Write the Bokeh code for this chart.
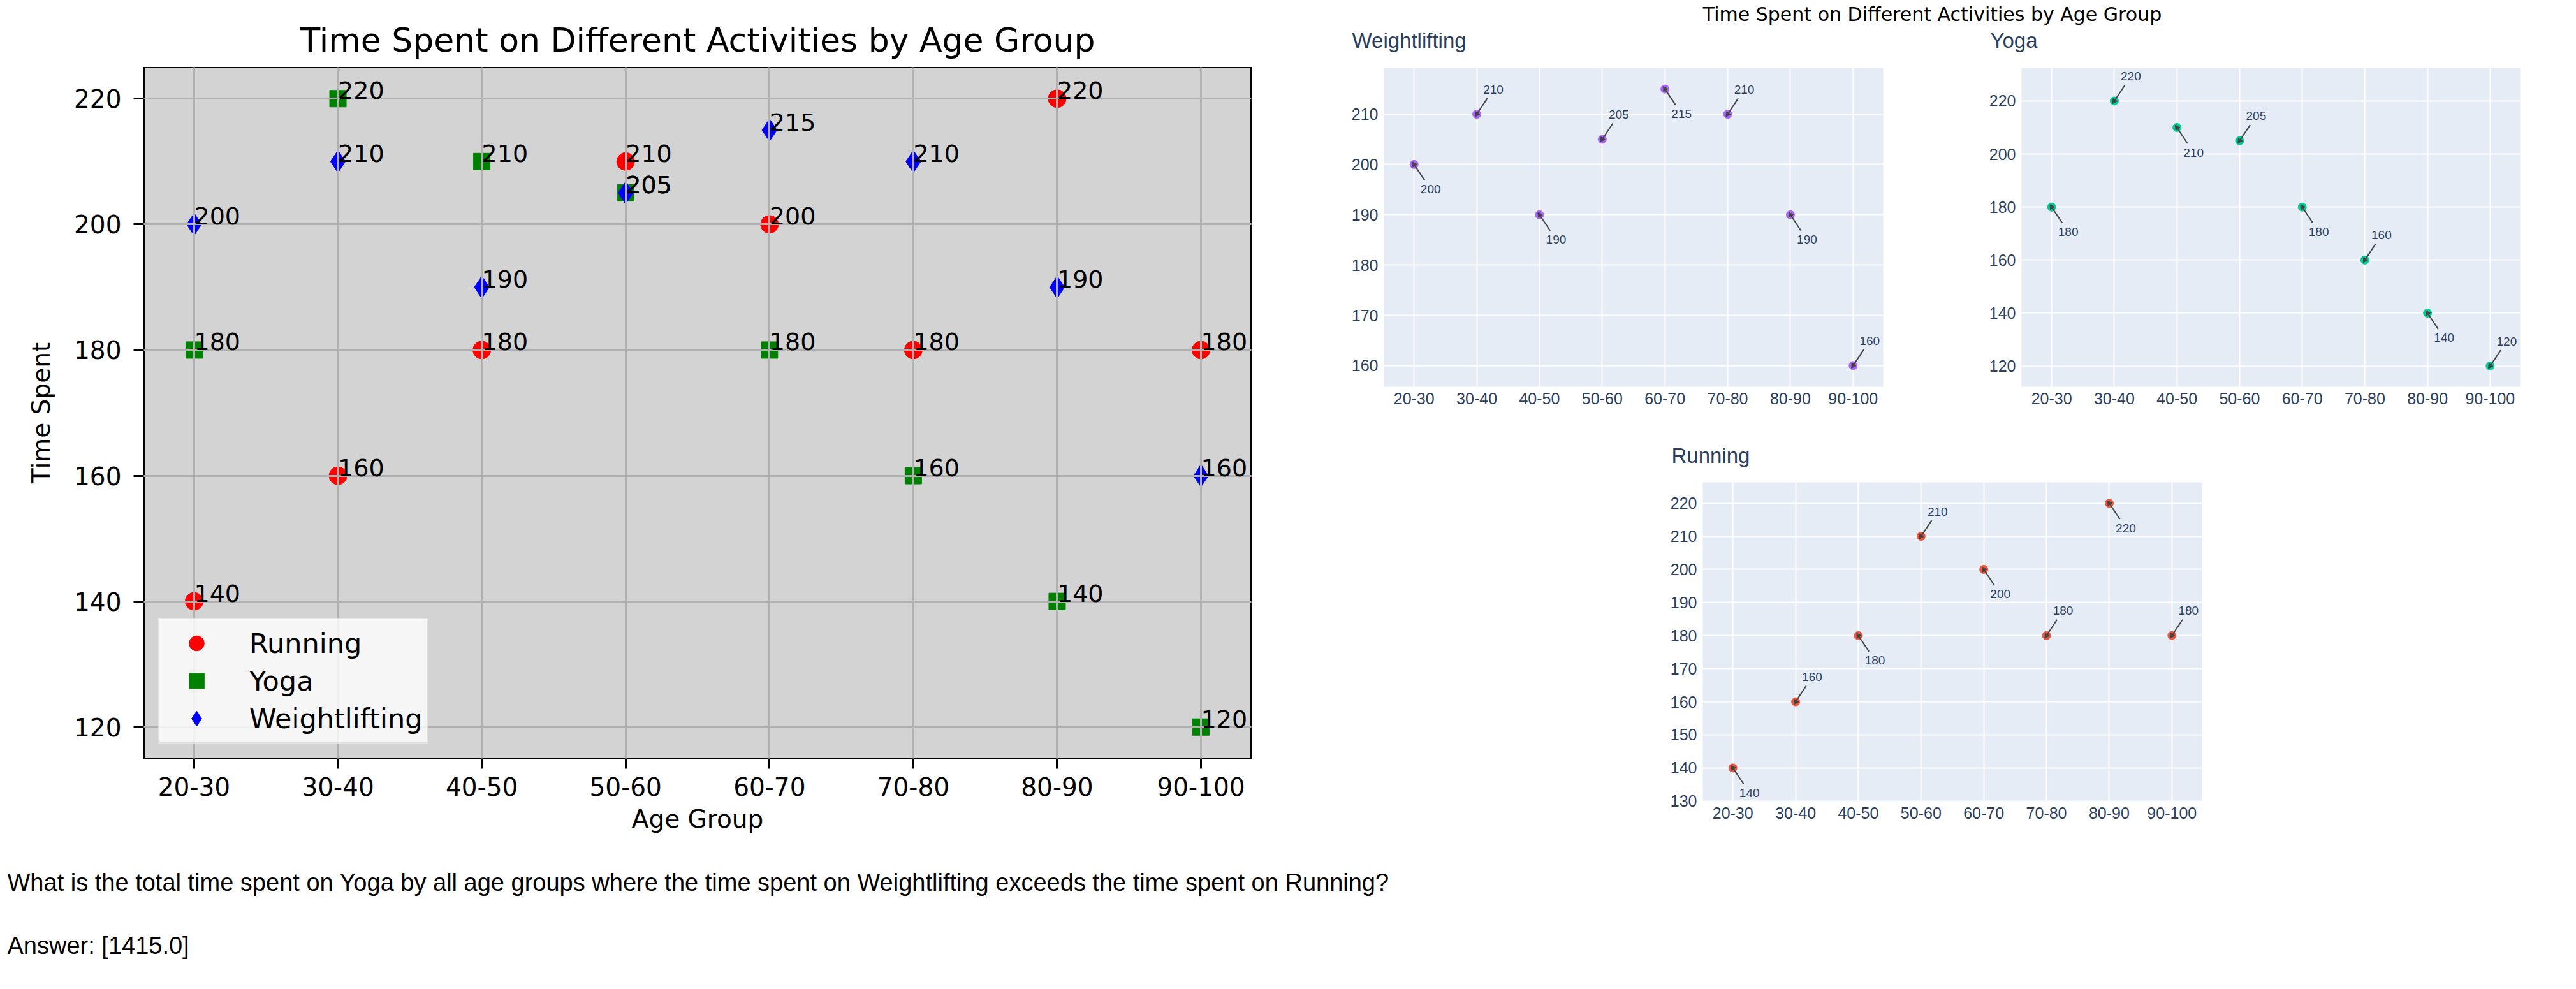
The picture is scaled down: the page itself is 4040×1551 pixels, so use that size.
from bokeh.plotting import figure
from bokeh.models import (FactorRange, Range1d, FixedTicker, Legend, LegendItem,
                          ColumnDataSource, Spacer, Label)
from bokeh.layouts import row, column
from bokeh.core.properties import value
from bokeh.embed import file_html
from bokeh.resources import INLINE

# ---------------- data ----------------
age_groups = ["20-30", "30-40", "40-50", "50-60", "60-70", "70-80", "80-90", "90-100"]
running = [140, 160, 180, 210, 200, 180, 220, 180]
yoga = [180, 220, 210, 205, 180, 160, 140, 120]
weightlifting = [200, 210, 190, 205, 215, 210, 190, 160]

series_names = ["Running", "Yoga", "Weightlifting"]
main_title = "Time Spent on Different Activities by Age Group"
x_axis_label = "Age Group"
y_axis_label = "Time Spent"
left_y_ticks = [120, 140, 160, 180, 200, 220]
weight_y_ticks = [160, 170, 180, 190, 200, 210]
yoga_y_ticks = [120, 140, 160, 180, 200, 220]
running_y_ticks = [130, 140, 150, 160, 170, 180, 190, 200, 210, 220]
question = ("What is the total time spent on Yoga by all age groups where the time "
            "spent on Weightlifting exceeds the time spent on Running?")
answer = "Answer: [1415.0]"

DV = "DejaVu Sans"
LS = "Liberation Sans"
PLOTLY_TXT = "#2a3f5f"

src = ColumnDataSource(dict(
    age=age_groups, run=running, yoga=yoga, wl=weightlifting,
    run_txt=[str(v) for v in running],
    yoga_txt=[str(v) for v in yoga],
    wl_txt=[str(v) for v in weightlifting],
))


def no_align(fig):
    try:
        fig.frame_align = False
    except Exception:
        pass
    return fig


def blank(width, height):
    b = figure(width=width, height=height, x_range=Range1d(0, 1), y_range=Range1d(0, 1),
               title=None, x_axis_location=None, y_axis_location=None,
               min_border=0, output_backend="svg", toolbar_location=None,
               background_fill_color="white", border_fill_color="white")
    b.outline_line_color = None
    b.grid.visible = False
    return no_align(b)


def put_text(fig, x, baseline_y, text, font, size_px, color="black", align="left"):
    # vertically centred box; centre sits ~0.35 em above the baseline
    fig.add_layout(Label(x=x, y=baseline_y + 0.35 * size_px, x_units="screen",
                         y_units="screen", text=text, text_font=font,
                         text_font_size=f"{size_px}px", text_color=color,
                         text_align=align, text_baseline="middle"))


# ---------------- left (matplotlib-like) chart ----------------
left_title = blank(2022, 105)
put_text(left_title, 217 + 868.5, 24, main_title, DV, 52, align="center")

left = figure(width=2022, height=1235,
              x_range=FactorRange(factors=age_groups, range_padding=-0.15,
                                  range_padding_units="absolute"),
              y_range=Range1d(115, 225), title=None,
              output_backend="svg", toolbar_location=None,
              min_border_left=217, min_border_right=68,
              min_border_top=0, min_border_bottom=151,
              background_fill_color="#d3d3d3", border_fill_color="white")
no_align(left)
left.outline_line_color = "black"
left.outline_line_width = 3
left.yaxis.ticker = FixedTicker(ticks=left_y_ticks)
left.xaxis.axis_label = x_axis_label
left.yaxis.axis_label = y_axis_label
for ax in left.axis:
    ax.axis_line_color = None
    ax.major_tick_out = 16
    ax.major_tick_in = 0
    ax.major_tick_line_width = 3
    ax.major_tick_line_color = "black"
    ax.minor_tick_line_color = None
    ax.major_label_text_font = DV
    ax.major_label_text_font_size = "39px"
    ax.major_label_text_color = "black"
    ax.axis_label_text_font = DV
    ax.axis_label_text_font_size = "39px"
    ax.axis_label_text_font_style = "normal"
    ax.axis_label_text_color = "black"
left.xaxis.major_label_standoff = 13
left.yaxis.major_label_standoff = 19
left.xaxis.axis_label_standoff = 11
left.yaxis.axis_label_standoff = 26
left.grid.grid_line_color = "#b0b0b0"
left.grid.grid_line_width = 3
left.grid.level = "guide"

r_run = left.scatter("age", "run", source=src, marker="circle", size=28,
                     fill_color="red", line_color="red")
r_yoga = left.scatter("age", "yoga", source=src, marker="square", size=26,
                      fill_color="green", line_color="green")
r_wl = left.scatter("age", "wl", source=src, marker="diamond", size=35,
                    fill_color="blue", line_color="blue")

for col, txt in [("run", "run_txt"), ("yoga", "yoga_txt"), ("wl", "wl_txt")]:
    t = left.text(x="age", y=col, text=txt, source=src, text_font=value(DV),
                  text_font_size="38px", text_color="black",
                  text_align="left", text_baseline="middle", y_offset=-13)
    t.level = "annotation"

legend = Legend(items=[LegendItem(label=n, renderers=[r])
                       for n, r in zip(series_names, [r_run, r_yoga, r_wl])],
                location="bottom_left", margin=23, padding=8,
                glyph_width=100, glyph_height=59, label_height=59,
                label_standoff=33, spacing=0,
                label_text_font=DV, label_text_font_size="43px",
                label_text_color="black",
                background_fill_color="white", background_fill_alpha=0.8,
                border_line_color="#cccccc", border_line_width=2)
left.add_layout(legend)


# ---------------- right (plotly-like) subplots ----------------
def plotly_sub(vals, color, ticks, y_start, y_end, width, height, bl, br, bt, bb):
    f = figure(width=width, height=height,
               x_range=FactorRange(factors=age_groups, range_padding=-0.02,
                                   range_padding_units="absolute"),
               y_range=Range1d(y_start, y_end), title=None,
               output_backend="svg", toolbar_location=None,
               min_border_left=bl, min_border_right=br,
               min_border_top=bt, min_border_bottom=bb,
               background_fill_color="#E5ECF6", border_fill_color="white")
    no_align(f)
    f.outline_line_color = None
    f.yaxis.ticker = FixedTicker(ticks=ticks)
    for ax in f.axis:
        ax.axis_line_color = None
        ax.major_tick_line_color = None
        ax.minor_tick_line_color = None
        ax.major_label_text_font = LS
        ax.major_label_text_font_size = "25px"
        ax.major_label_text_color = PLOTLY_TXT
    f.xaxis.major_label_standoff = 3
    f.yaxis.major_label_standoff = 3
    f.grid.grid_line_color = "white"
    f.grid.grid_line_width = 2

    n = len(vals)
    below = [i % 2 == 0 for i in range(n)]
    s = ColumnDataSource(dict(
        age=age_groups, v=vals, txt=[str(v) for v in vals],
        dy=[39 if b else -39 for b in below],
        ray_ang=[-56.3 if b else 56.3 for b in below],
        head_ang=[33.7 if b else 146.3 for b in below],
    ))
    f.scatter("age", "v", source=s, size=13, fill_color=color, line_color=color)
    f.ray(x="age", y="v", length=30, length_units="screen", angle="ray_ang",
          angle_units="deg", line_color="#444444", line_width=2, source=s)
    f.scatter("age", "v", source=s, marker="triangle", size=8, angle="head_ang",
              angle_units="deg", fill_color="#444444", line_color="#444444")
    f.text(x="age", y="v", text="txt", x_offset=26, y_offset="dy", source=s,
           text_font=value(LS), text_font_size="19px", text_color=PLOTLY_TXT,
           text_align="center", text_baseline="middle")
    return f


top_strip = blank(2002, 106)
put_text(top_strip, 1000, 73.3, main_title, DV, 30, align="center")
put_text(top_strip, 90, 31, "Weightlifting", LS, 33, color=PLOTLY_TXT)
put_text(top_strip, 1091, 31, "Yoga", LS, 33, color=PLOTLY_TXT)

wl_fig = plotly_sub(weightlifting, "#AB63FA", weight_y_ticks,
                    155.8, 219.2, 1030, 554, 140, 107, 0, 54)
yoga_fig = plotly_sub(yoga, "#00CC96", yoga_y_ticks,
                      112.2, 232.5, 972, 554, 110, 80, 0, 54)

run_strip = blank(1030, 96)
put_text(run_strip, 91, 30.5, "Running", LS, 33, color=PLOTLY_TXT)
run_fig = plotly_sub(running, "#EF553B", running_y_ticks,
                     129.95, 226.3, 1030, 584, 140, 107, 0, 84)

bottom = blank(4024, 203)
put_text(bottom, 3, 146, question, LS, 38)
put_text(bottom, 3, 47, answer, LS, 38)

right_block = column(top_strip, row(wl_fig, yoga_fig),
                     row(Spacer(width=500, height=680), column(run_strip, run_fig)))
content = column(row(column(left_title, left), right_block), bottom)
page = row(Spacer(width=8, height=1543), content)

open("out.html", "w").write(file_html(page, INLINE))
